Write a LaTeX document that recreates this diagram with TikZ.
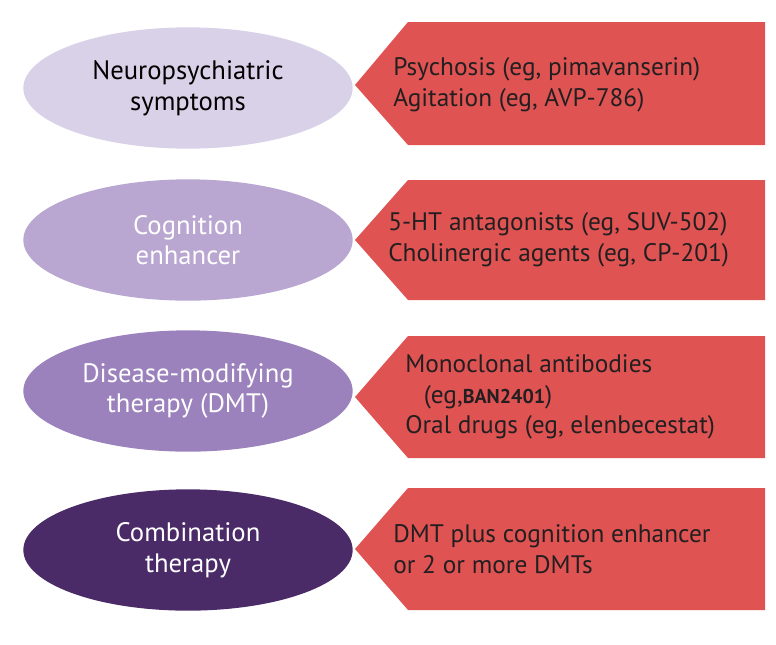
\documentclass[tikz,border=0pt]{standalone}
\usepackage{fontspec}
\setmainfont{PT Sans}
\usetikzlibrary{shapes.geometric}
\definecolor{lilacA}{HTML}{D9D1E8}
\definecolor{lilacB}{HTML}{B9A7D1}
\definecolor{lilacC}{HTML}{9B82BC}
\definecolor{plumD}{HTML}{4A2B68}
\definecolor{flagred}{HTML}{E05353}
\definecolor{ink}{HTML}{231F20}
\tikzset{
  oval/.style={ellipse,minimum width=247pt,minimum height=91pt,align=center,font=\fontsize{20}{23}\selectfont,inner sep=0pt},
  flag/.style={fill=flagred},
  flagtext/.style={anchor=west,align=left,text=ink,font=\fontsize{19}{23}\selectfont,inner sep=0pt}
}
\begin{document}
\begin{tikzpicture}[x=0.75pt,y=-0.75pt]
  \useasboundingbox (0,0) rectangle (776,644);

  % Ovals
  \node[oval,fill=lilacA,text=black] (neuro) at (188,88) {Neuropsychiatric\\symptoms};
  \node[oval,fill=lilacB,text=white] (cogn) at (188,240) {Cognition\\enhancer};
  \node[oval,fill=lilacC,text=white] (dmt) at (188,391) {Disease-modifying\\therapy (DMT)};
  \node[oval,fill=plumD,text=white] (combo) at (188,550) {Combination\\therapy};

  % Flags
  \fill[flag] (355,85) -- (408,22) -- (765,22) -- (765,145) -- (408,145) -- cycle;
  \fill[flag] (355,240) -- (408,180) -- (765,180) -- (765,300) -- (408,300) -- cycle;
  \fill[flag] (355,397) -- (408,336) -- (765,336) -- (765,458) -- (408,458) -- cycle;
  \fill[flag] (355,549) -- (408,488) -- (765,488) -- (765,610) -- (408,610) -- cycle;

  % Flag texts
  \node[flagtext] (neurolist) at (393,85) {Psychosis (eg, pimavanserin)\\Agitation (eg, AVP-786)};
  \node[flagtext] (cognlist) at (388,240) {5-HT antagonists (eg, SUV-502)\\Cholinergic agents (eg, CP-201)};
  \node[flagtext] (dmtlist) at (405,397) {Monoclonal antibodies\\\hspace{14pt}(eg,{\fontsize{15}{23}\selectfont\bfseries BAN2401})\\Oral drugs (eg, elenbecestat)};
  \node[flagtext] (combolist) at (393,549) {DMT plus cognition enhancer\\or 2 or more DMTs};
\end{tikzpicture}
\end{document}
